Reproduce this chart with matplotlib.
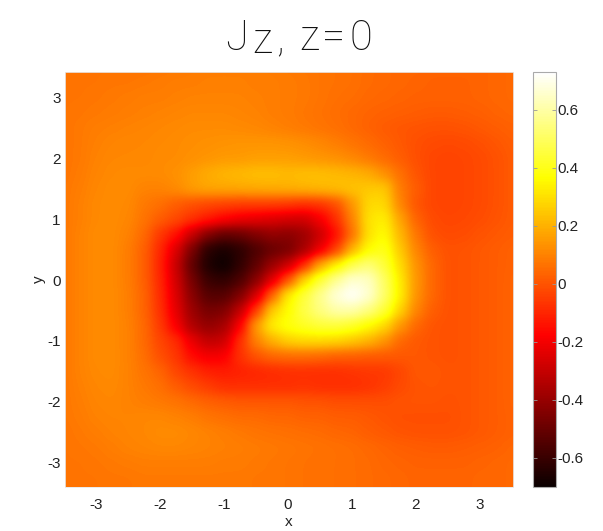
import numpy as np
import matplotlib
matplotlib.use('Agg')
import matplotlib.pyplot as plt

# grid nodes every 0.25 in x and y, values of Jz
x_nodes = [-3.5 + 0.25 * i for i in range(29)]
y_nodes = [3.5 - 0.25 * i for i in range(29)]

# one row per y node, top row (y=3.5) first, left column (x=-3.5) first
jz = [
    [.07, .07, .07, .07, .07, .07, .075, .08, .085, .09, .09, .09, .09, .085, .08, .075, .07, .065, .06, .05, .045, .04, .04, .035, .035, .035, .035, .04, .045],
    [.07, .07, .07, .075, .075, .08, .085, .09, .09, .095, .095, .095, .09, .09, .085, .08, .07, .065, .06, .05, .045, .04, .035, .03, .03, .03, .035, .04, .045],
    [.07, .07, .075, .08, .085, .09, .09, .095, .10, .10, .10, .10, .095, .09, .085, .08, .07, .06, .055, .045, .04, .035, .03, .03, .03, .03, .035, .04, .045],
    [.07, .075, .08, .085, .09, .095, .10, .105, .11, .11, .11, .105, .10, .09, .085, .075, .065, .055, .045, .035, .03, .025, .02, .015, .015, .02, .025, .035, .04],
    [.07, .08, .09, .095, .10, .105, .11, .115, .12, .12, .12, .115, .11, .10, .09, .08, .07, .06, .045, .03, .015, .005, 0, -.005, -.005, 0, .01, .02, .03],
    [.07, .08, .095, .105, .11, .11, .115, .12, .125, .13, .135, .14, .14, .14, .135, .125, .11, .09, .07, .05, .03, .01, -.01, -.02, -.025, -.02, -.01, .005, .02],
    [.07, .08, .10, .11, .11, .11, .12, .12, .13, .14, .15, .15, .16, .16, .16, .15, .14, .13, .11, .08, .05, .02, -.01, -.03, -.035, -.03, -.02, -.005, .015],
    [.07, .085, .105, .115, .12, .12, .12, .13, .16, .19, .21, .22, .23, .23, .22, .23, .23, .22, .21, .19, .13, .06, 0, -.03, -.035, -.03, -.02, -.005, .015],
    [.075, .09, .11, .12, .12, .10, .10, .12, .16, .18, .18, .185, .19, .195, .20, .21, .22, .23, .24, .25, .26, .08, .02, -.03, -.035, -.03, -.02, -.005, .015],
    [.075, .095, .115, .12, .115, .08, .06, .02, -.01, -.03, -.04, -.05, -.05, -.05, -.06, -.08, -.07, -.02, .14, .29, .29, .10, 0, -.03, -.035, -.03, -.02, -.005, .015],
    [.075, .095, .115, .12, .11, .07, .02, -.02, -.07, -.12, -.17, -.21, -.23, -.25, -.27, -.28, -.20, -.08, .10, .31, .34, .17, .03, -.02, -.03, -.025, -.015, 0, .015],
    [.075, .10, .12, .12, .10, .05, -.06, -.14, -.30, -.45, -.52, -.50, -.45, -.41, -.43, -.39, -.29, -.15, .06, .31, .37, .21, .07, -.01, -.02, -.015, 0, .01, .02],
    [.075, .10, .12, .12, .09, .03, -.09, -.25, -.46, -.64, -.67, -.63, -.56, -.50, -.47, -.37, -.22, -.05, .21, .36, .41, .25, .10, .02, -.005, 0, .01, .02, .03],
    [.075, .10, .12, .12, .09, .03, -.10, -.29, -.52, -.66, -.70, -.62, -.52, -.39, -.29, -.09, .19, .34, .48, .54, .45, .29, .13, .04, -.005, 0, .01, .02, .03],
    [.075, .10, .12, .12, .09, .03, -.09, -.27, -.47, -.60, -.62, -.56, -.43, -.24, 0, .29, .45, .58, .67, .65, .51, .32, .14, .04, -.005, 0, .01, .02, .035],
    [.075, .10, .12, .12, .095, .04, -.08, -.25, -.43, -.54, -.54, -.45, -.27, .04, .34, .45, .57, .68, .73, .67, .52, .33, .13, .04, -.005, 0, .01, .02, .035],
    [.075, .10, .12, .12, .095, .04, -.07, -.23, -.39, -.47, -.45, -.31, -.05, .27, .36, .47, .55, .61, .61, .55, .45, .27, .10, .02, -.005, 0, .01, .02, .035],
    [.075, .10, .12, .12, .10, .05, -.05, -.19, -.35, -.41, -.37, -.19, .17, .34, .39, .42, .45, .45, .42, .36, .29, .14, .04, 0, -.005, 0, .01, .02, .035],
    [.075, .10, .12, .12, .10, .05, -.03, -.08, -.22, -.31, -.29, -.07, .10, .20, .27, .29, .29, .28, .25, .21, .14, .04, .01, 0, -.005, 0, .01, .02, .035],
    [.075, .10, .12, .12, .10, .06, -.01, -.06, -.16, -.20, -.19, -.07, 0, .04, .05, .05, .04, .02, .02, .01, .01, .01, .01, 0, -.005, 0, .01, .02, .035],
    [.075, .10, .115, .12, .10, .07, .04, -.03, -.07, -.11, -.12, -.11, -.10, -.09, -.08, -.08, -.08, -.08, -.07, -.06, -.06, -.03, .01, .01, 0, 0, .01, .02, .035],
    [.075, .095, .11, .115, .10, .08, .06, .02, -.02, -.05, -.08, -.08, -.08, -.08, -.08, -.07, -.08, -.08, -.08, -.07, -.05, -.02, 0, .005, 0, 0, .01, .02, .035],
    [.075, .09, .105, .11, .10, .09, .08, .07, .05, .03, .02, .01, .01, .01, .01, 0, 0, -.01, -.01, -.01, -.01, 0, 0, 0, -.005, 0, .01, .02, .035],
    [.075, .085, .10, .105, .105, .11, .11, .10, .09, .07, .06, .05, .05, .04, .04, .03, .03, .02, .02, .01, 0, -.01, -.01, -.01, -.01, 0, .01, .02, .03],
    [.07, .08, .09, .10, .105, .11, .12, .12, .11, .10, .09, .08, .07, .065, .06, .055, .05, .04, .035, .02, .01, 0, -.005, -.005, -.005, 0, .01, .02, .03],
    [.07, .075, .08, .09, .10, .105, .11, .11, .105, .10, .095, .09, .085, .08, .075, .07, .065, .06, .055, .045, .035, .025, .02, .015, .015, .02, .025, .03, .04],
    [.07, .07, .075, .08, .085, .09, .09, .09, .09, .09, .085, .085, .08, .075, .07, .065, .06, .06, .055, .05, .04, .035, .03, .03, .03, .03, .035, .04, .045],
    [.07, .07, .07, .075, .075, .08, .08, .08, .08, .08, .08, .08, .075, .075, .07, .065, .06, .06, .055, .05, .045, .04, .035, .035, .035, .035, .04, .04, .045],
    [.07, .07, .07, .075, .075, .08, .08, .08, .08, .08, .08, .08, .075, .075, .07, .065, .06, .06, .055, .05, .045, .04, .035, .035, .035, .035, .04, .04, .045],
]

x_ticks = [-3, -2, -1, 0, 1, 2, 3]
y_ticks = [-3, -2, -1, 0, 1, 2, 3]
cbar_ticks = [-0.6, -0.4, -0.2, 0, 0.2, 0.4, 0.6]
cbar_labels = ['-0.6', '-0.4', '-0.2', '0', '0.2', '0.4', '0.6']
vmin, vmax = -0.70, 0.73

# title glyphs and where their centres sit in the reference (pixels from left)
title_parts = ['J', 'z', ',', 'z', '=', '0']
title_centres = [237, 262.5, 280, 309, 334, 361]
title_drop = [0, 3.5, 0, 0, 0, 0]

plt.rcParams['font.family'] = ['Liberation Sans', 'DejaVu Sans']
plt.rcParams['axes.unicode_minus'] = False

fig = plt.figure(figsize=(6.03, 5.31), dpi=100)
ax = fig.add_axes([0.1078, 0.0829, 0.743, 0.7815])
cax = fig.add_axes([0.884, 0.0829, 0.038, 0.7815])

data = np.array(jz)
assert data.shape == (len(y_nodes), len(x_nodes))
dx = x_nodes[1] - x_nodes[0]
dy = y_nodes[0] - y_nodes[1]
extent = (x_nodes[0] - dx / 2, x_nodes[-1] + dx / 2,
          y_nodes[-1] - dy / 2, y_nodes[0] + dy / 2)
im = ax.imshow(data, cmap='hot', vmin=vmin, vmax=vmax, extent=extent,
               origin='upper', interpolation='gaussian', aspect='auto')
ax.set_xlim(-3.48, 3.52)
ax.set_ylim(-3.40, 3.42)
ax.set_xticks(x_ticks)
ax.set_yticks(y_ticks)
ax.tick_params(length=0, labelsize=11, colors='#222222')
ax.tick_params(axis='x', pad=8)
ax.tick_params(axis='y', pad=3)
for s in ax.spines.values():
    s.set_color('#e8e8e8')
    s.set_linewidth(0.6)
ax.set_xlabel('x', fontsize=11, labelpad=2, color='#222222')
ax.set_ylabel('y', fontsize=11, labelpad=1, color='#222222')

cb = fig.colorbar(im, cax=cax, ticks=cbar_ticks)
cb.outline.set_edgecolor('#aaaaaa')
cb.outline.set_linewidth(0.8)
cax.set_yticklabels(cbar_labels)
cax.tick_params(direction='in', left=True, right=True, labelleft=False,
                labelright=True, length=3, width=0.6, color='#999999',
                labelsize=11, pad=1, labelcolor='#222222')

# title "Jz, z=0", the z right after the J sits a little lower
tfont = dict(family=['Roboto', 'DejaVu Sans'], weight='light', fontsize=30, color='#111111')
base = 1 - 50 / 531
for part, xc, drop in zip(title_parts, title_centres, title_drop):
    fig.text(xc / 603, base - drop / 531, part, va='baseline', ha='center', **tfont)

fig.savefig('out.png', dpi=100)
